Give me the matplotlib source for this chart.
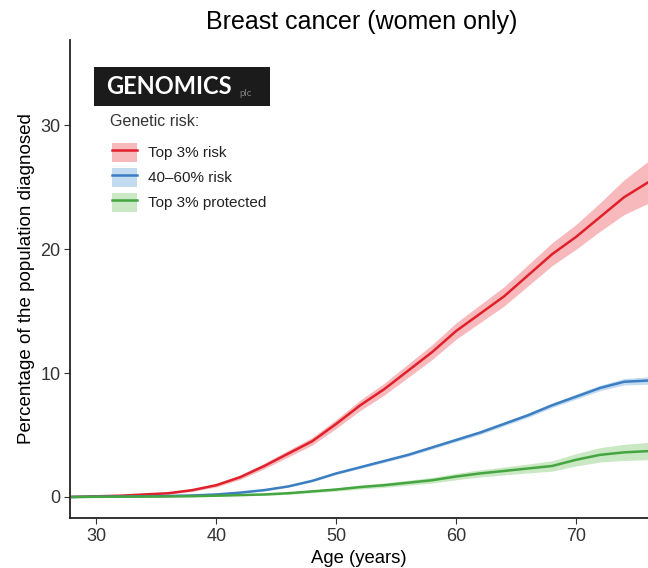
import matplotlib

matplotlib.use("Agg")

import matplotlib.pyplot as plt
from matplotlib.lines import Line2D
from matplotlib.patches import Patch, Rectangle

plt.rcParams["font.family"] = ["Liberation Sans", "DejaVu Sans"]

# Cumulative incidence by age, per genetic-risk group (percent diagnosed)
ages = [28, 30, 32, 34, 36, 38, 40, 42, 44, 46, 48, 50, 52,
        54, 56, 58, 60, 62, 64, 66, 68, 70, 72, 74, 76]

top_risk = [0.0, 0.05, 0.1, 0.2, 0.3, 0.55, 0.95, 1.6, 2.5, 3.5, 4.5, 5.9, 7.4,
            8.7, 10.2, 11.7, 13.4, 14.8, 16.2, 17.9, 19.6, 21.0, 22.6, 24.2, 25.4]
top_risk_ci = [0.0, 0.02, 0.03, 0.05, 0.07, 0.1, 0.14, 0.18, 0.22, 0.27, 0.31, 0.36, 0.42,
               0.48, 0.54, 0.6, 0.66, 0.72, 0.78, 0.85, 0.92, 1.0, 1.15, 1.4, 1.7]

mid_risk = [0.0, 0.02, 0.03, 0.05, 0.08, 0.12, 0.2, 0.35, 0.55, 0.85, 1.3, 1.9, 2.4,
            2.9, 3.4, 4.0, 4.6, 5.2, 5.9, 6.6, 7.4, 8.1, 8.8, 9.3, 9.4]
mid_risk_ci = [0.0, 0.01, 0.01, 0.01, 0.02, 0.02, 0.03, 0.04, 0.05, 0.06, 0.08, 0.09, 0.1,
               0.11, 0.12, 0.13, 0.14, 0.15, 0.16, 0.17, 0.18, 0.2, 0.22, 0.26, 0.3]

protected = [0.0, 0.01, 0.02, 0.03, 0.04, 0.06, 0.1, 0.15, 0.2, 0.3, 0.45, 0.6, 0.8,
             0.95, 1.15, 1.35, 1.65, 1.9, 2.1, 2.3, 2.5, 3.0, 3.4, 3.6, 3.7]
protected_ci = [0.0, 0.01, 0.01, 0.02, 0.02, 0.03, 0.04, 0.05, 0.07, 0.09, 0.11, 0.13, 0.16,
                0.18, 0.2, 0.23, 0.26, 0.29, 0.32, 0.36, 0.42, 0.5, 0.58, 0.65, 0.7]

series = [
    ("Top 3% risk", top_risk, top_risk_ci, "#E0202A", "#F7A8AC"),
    ("40\u201360% risk", mid_risk, mid_risk_ci, "#3B7EC2", "#B5D3EE"),
    ("Top 3% protected", protected, protected_ci, "#45A540", "#BCE3B5"),
]

fig = plt.figure(figsize=(6.48, 5.68), dpi=100)
ax = fig.add_axes([70 / 648, 50 / 568, 578 / 648, 478 / 568])

handles = []
labels = []
for label, values, ci, line_color, band_color in series:
    lower = [v - c for v, c in zip(values, ci)]
    upper = [v + c for v, c in zip(values, ci)]
    ax.fill_between(ages, lower, upper, color=band_color, alpha=0.8, linewidth=0)
    ax.plot(ages, values, color=line_color, linewidth=1.8)
    handles.append((Patch(facecolor=band_color, edgecolor="none", alpha=0.8),
                    Line2D([], [], color=line_color, linewidth=1.8)))
    labels.append(label)

ax.set_xlim(27.8, 76)
ax.set_ylim(-1.7, 36.9)
ax.set_xticks([30, 40, 50, 60, 70])
ax.set_yticks([0, 10, 20, 30])
ax.tick_params(axis="both", labelsize=13, color="#333333", labelcolor="#333333",
               length=4, width=0.8, pad=3)

for side in ["top", "right"]:
    ax.spines[side].set_visible(False)
for side in ["left", "bottom"]:
    ax.spines[side].set_linewidth(1.3)
    ax.spines[side].set_color("#222222")

ax.set_xlabel("Age (years)", fontsize=13.3, labelpad=4)
ax.set_ylabel("Percentage of the population diagnosed", fontsize=13.5, labelpad=4)
fig.text(362 / 648, 1 - 22 / 568, "Breast cancer (women only)", fontsize=18,
         ha="center", va="center")

# Legend: title as its own text, entries as band patch + line
fig.text(110 / 648, 1 - 121 / 568, "Genetic risk:", fontsize=11.5,
         color="#333333", ha="left", va="center")
leg = ax.legend(
    handles,
    labels,
    loc="upper left",
    bbox_to_anchor=(104 / 648, 1 - 135 / 568),
    bbox_transform=fig.transFigure,
    frameon=False,
    fontsize=11,
    borderpad=0,
    handlelength=1.65,
    handleheight=1.6,
    labelspacing=0.35,
    handletextpad=0.72,
)
for text in leg.get_texts():
    text.set_color("#222222")

# Company logo block
fig.add_artist(Rectangle((94 / 648, 1 - 106 / 568), 176 / 648, 39 / 568,
                         transform=fig.transFigure, facecolor="#1b1b1b",
                         edgecolor="none", zorder=5))
fig.text(106 / 648, 1 - 87 / 568, "GENOMICS", color="white", fontsize=17,
         fontweight="bold", family=["Lato", "DejaVu Sans"], va="center",
         ha="left", zorder=6)
fig.text(239 / 648, 1 - 93 / 568, "plc", color="#808080", fontsize=7,
         family=["Lato", "DejaVu Sans"], va="center", ha="left", zorder=6)

fig.savefig("out.png", dpi=100)
plt.close(fig)
